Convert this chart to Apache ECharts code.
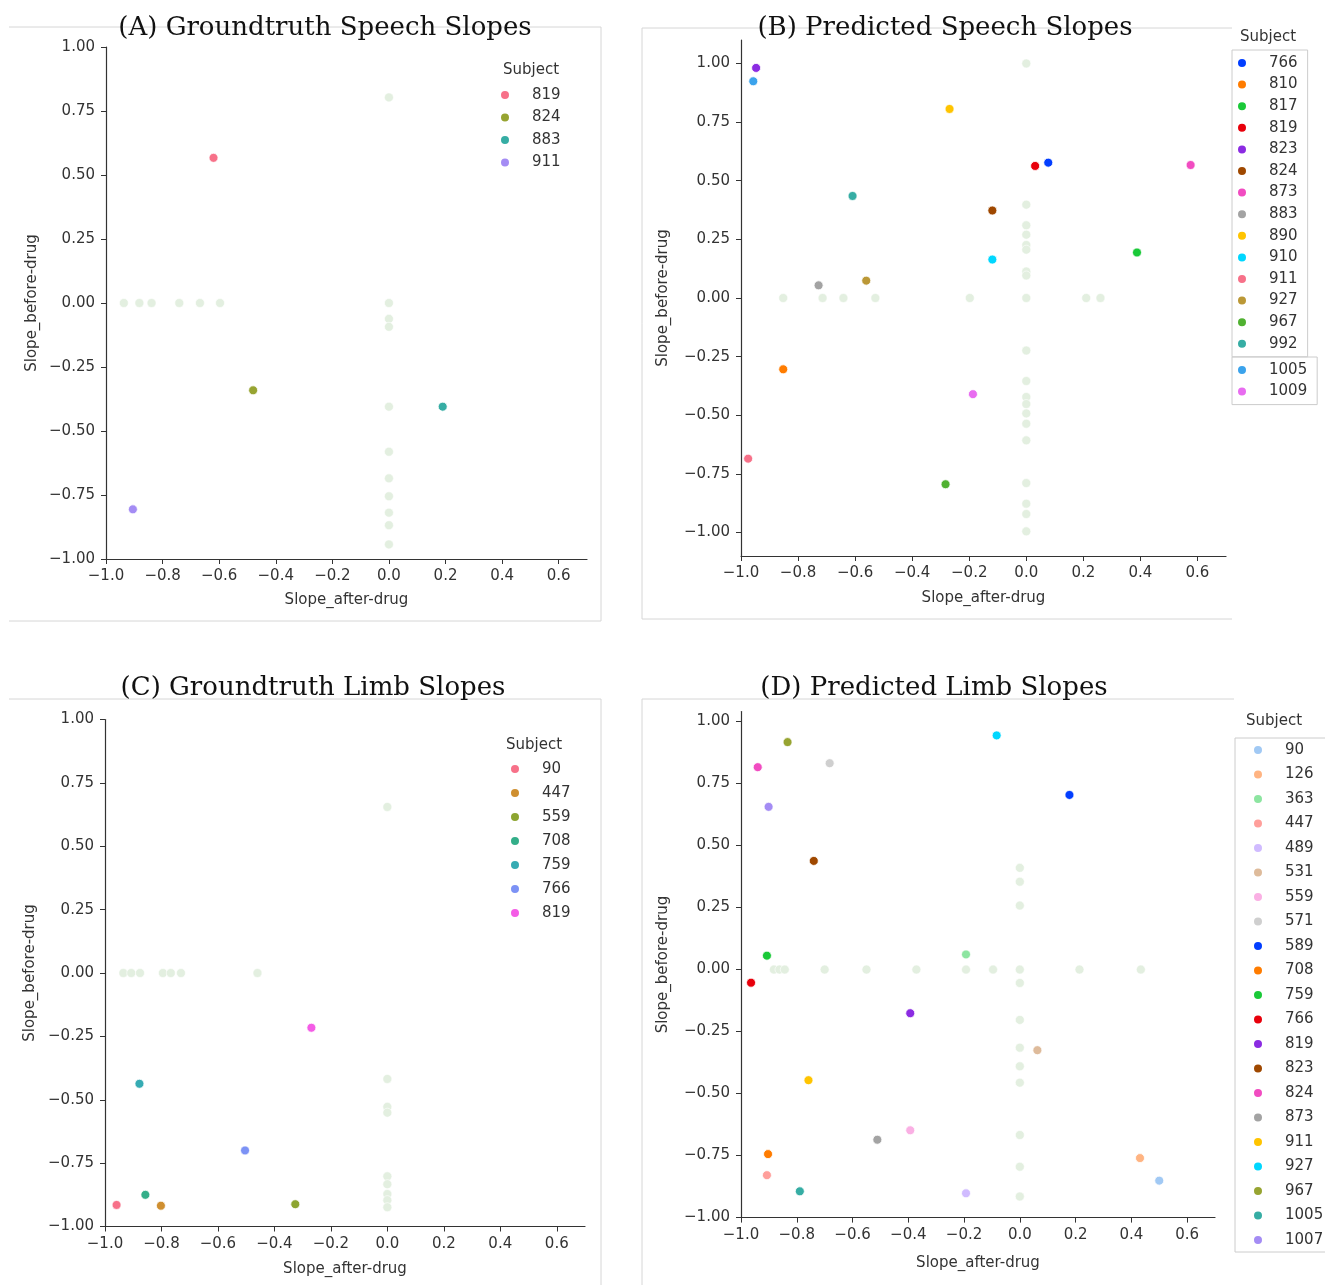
<!DOCTYPE html>
<html>
<head>
<meta charset="UTF-8">
<title>Speech and limb slopes</title>
<script src="https://cdn.jsdelivr.net/npm/echarts@6.0.0/dist/echarts.min.js"></script>
<style>
  body { margin: 0; background: #fff; }
  #chart { width: 1325px; height: 1285px; }
</style>
</head>
<body>
<div id="chart"></div>
<script>
// (A) groundtruth speech
var aSubjects = ['819', '824', '883', '911'];
var aAfter = [-0.62, -0.48, 0.19, -0.905];
var aBefore = [0.567, -0.341, -0.405, -0.806];
var aColors = ['#f77189', '#97a431', '#36ada4', '#a48cf4'];
var aRestAfter = [-0.937, -0.882, -0.839, -0.741, -0.668, -0.597, 0, 0, 0, 0, 0, 0, 0, 0, 0, 0, 0];
var aRestBefore = [0, 0, 0, 0, 0, 0, 0.803, 0, -0.062, -0.093, -0.405, -0.581, -0.685, -0.755, -0.819, -0.868, -0.943];

// (B) predicted speech
var bSubjects = ['766', '810', '817', '819', '823', '824', '873', '883', '890', '910', '911', '927', '967', '992', '1005', '1009'];
var bAfter = [0.077, -0.852, 0.388, 0.031, -0.947, -0.119, 0.576, -0.728, -0.269, -0.119, -0.975, -0.561, -0.283, -0.609, -0.957, -0.187];
var bBefore = [0.577, -0.304, 0.194, 0.563, 0.981, 0.373, 0.567, 0.054, 0.806, 0.164, -0.685, 0.074, -0.794, 0.435, 0.924, -0.410];
var bColors = ['#023eff', '#ff7c00', '#1ac938', '#e8000b', '#8b2be2', '#9f4800', '#f14cc1', '#a3a3a3',
               '#ffc400', '#00d7ff', '#f77189', '#bb9836', '#50b131', '#36ada4', '#3ba3ec', '#e86cf0'];
var bRestAfter = [-0.852, -0.714, -0.641, -0.529, -0.198, 0.210, 0.260,
                  0, 0, 0, 0, 0, 0, 0, 0, 0, 0, 0, 0, 0, 0, 0, 0, 0, 0, 0, 0];
var bRestBefore = [0, 0, 0, 0, 0, 0, 0,
                   1.0, 0.398, 0.310, 0.270, 0.226, 0.206, 0.113, 0.096, 0, -0.224, -0.354, -0.422, -0.452, -0.492, -0.536, -0.607, -0.789, -0.877, -0.921, -0.995];

// (C) groundtruth limb
var cSubjects = ['90', '447', '559', '708', '759', '766', '819'];
var cAfter = [-0.959, -0.802, -0.326, -0.857, -0.878, -0.504, -0.269];
var cBefore = [-0.915, -0.918, -0.912, -0.875, -0.437, -0.700, -0.216];
var cColors = ['#f77189', '#cf8f30', '#8da531', '#33ae89', '#36abb3', '#7c92f5', '#f45ce6'];
var cRestAfter = [-0.935, -0.907, -0.876, -0.795, -0.767, -0.731, -0.46, 0, 0, 0, 0, 0, 0, 0, 0, 0];
var cRestBefore = [0, 0, 0, 0, 0, 0, 0, 0.655, -0.418, -0.528, -0.551, -0.802, -0.833, -0.872, -0.896, -0.924];

// (D) predicted limb
var dSubjects = ['90', '126', '363', '447', '489', '531', '559', '571', '589', '708', '759',
                 '766', '819', '823', '824', '873', '911', '927', '967', '1005', '1007'];
var dAfter = [0.500, 0.431, -0.193, -0.907, -0.193, 0.063, -0.393, -0.682, 0.178, -0.903, -0.907,
              -0.964, -0.393, -0.739, -0.940, -0.511, -0.758, -0.083, -0.833, -0.789, -0.901];
var dBefore = [-0.851, -0.760, 0.061, -0.829, -0.902, -0.325, -0.648, 0.832, 0.704, -0.744, 0.056,
               -0.053, -0.176, 0.438, 0.816, -0.686, -0.446, 0.944, 0.917, -0.894, 0.656];
var dColors = ['#a1c9f4', '#ffb482', '#8de5a1', '#ff9f9b', '#d0bbff', '#debb9b', '#fab0e4', '#cfcfcf', '#023eff', '#ff7c00', '#1ac938',
               '#e8000b', '#8b2be2', '#9f4800', '#f14cc1', '#a3a3a3', '#ffc400', '#00d7ff', '#97a431', '#36ada4', '#a48cf4'];
var dRestAfter = [-0.882, -0.862, -0.843, -0.700, -0.550, -0.371, -0.193, -0.096, 0.214, 0.434,
                  0, 0, 0, 0, 0, 0, 0, 0, 0, 0, 0, 0];
var dRestBefore = [0, 0, 0, 0, 0, 0, 0, 0, 0, 0,
                   0.410, 0.354, 0.258, 0, -0.054, -0.203, -0.315, -0.390, -0.456, -0.667, -0.795, -0.915];

var xTicks = [-1.0, -0.8, -0.6, -0.4, -0.2, 0.0, 0.2, 0.4, 0.6];
var yTicks = [-1.0, -0.75, -0.5, -0.25, 0.0, 0.25, 0.5, 0.75, 1.0];

var faint = '#e3efe0';
var ink = '#333333';
var sans = 'DejaVu Sans';
var serif = 'DejaVu Serif';

function minus(s) { return s.replace('-', '\u2212'); }

function xAxisFor(grid, gap) {
  return {
    type: 'value', gridIndex: grid, min: -1.0, max: 0.7,
    name: 'Slope_after-drug', nameLocation: 'middle', nameGap: gap,
    nameTextStyle: { fontFamily: sans, fontSize: 15, color: ink },
    axisLine: { show: true, onZero: false, lineStyle: { color: ink, width: 1.2 } },
    axisTick: { show: true, length: 5, lineStyle: { color: ink }, customValues: xTicks },
    axisLabel: { fontFamily: sans, fontSize: 15, color: ink, margin: 10, customValues: xTicks,
      formatter: function (v) { return minus(v.toFixed(1)); } },
    splitLine: { show: false }
  };
}

function yAxisFor(grid, lo, hi, gap) {
  return {
    type: 'value', gridIndex: grid, min: lo, max: hi,
    name: 'Slope_before-drug', nameLocation: 'middle', nameGap: gap,
    nameTextStyle: { fontFamily: sans, fontSize: 15, color: ink },
    axisLine: { show: true, onZero: false, lineStyle: { color: ink, width: 1.2 } },
    axisTick: { show: true, length: 5, lineStyle: { color: ink }, customValues: yTicks },
    axisLabel: { fontFamily: sans, fontSize: 15, color: ink, margin: 11, customValues: yTicks,
      formatter: function (v) { return minus(v.toFixed(2)); } },
    splitLine: { show: false }
  };
}

var series = [];
function addPanel(key, grid, subjects, after, before, colors, restAfter, restBefore) {
  var rest = restAfter.map(function (x, i) { return [x, restBefore[i]]; });
  series.push({
    type: 'scatter', name: key + '|rest', xAxisIndex: grid, yAxisIndex: grid,
    data: rest, symbolSize: 9, z: 1,
    itemStyle: { color: faint, opacity: 1, borderColor: '#ffffff', borderWidth: 0.6 }
  });
  subjects.forEach(function (s, i) {
    series.push({
      type: 'scatter', name: key + '|' + s, xAxisIndex: grid, yAxisIndex: grid,
      data: [[after[i], before[i]]], symbolSize: 9, z: 3,
      itemStyle: { color: colors[i], opacity: 1, borderColor: '#ffffff', borderWidth: 0.8 }
    });
  });
}
addPanel('A', 0, aSubjects, aAfter, aBefore, aColors, aRestAfter, aRestBefore);
addPanel('B', 1, bSubjects, bAfter, bBefore, bColors, bRestAfter, bRestBefore);
addPanel('C', 2, cSubjects, cAfter, cBefore, cColors, cRestAfter, cRestBefore);
addPanel('D', 3, dSubjects, dAfter, dBefore, dColors, dRestAfter, dRestBefore);

function names(key, list) { return list.map(function (s) { return key + '|' + s; }); }

function legendFor(key, list, left, top, gap, boxed, pad) {
  return {
    orient: 'vertical', left: left, top: top, data: names(key, list),
    icon: 'circle', itemWidth: 10, itemHeight: 10, itemGap: gap,
    padding: pad, selectedMode: false,
    borderColor: boxed ? '#cccccc' : 'transparent', borderWidth: boxed ? 1 : 0,
    formatter: function (n) { return n.split('|')[1]; },
    textStyle: { fontFamily: sans, fontSize: 15, color: ink, lineHeight: 16, padding: [0, 0, 0, 17] }
  };
}

function heading(text, x, y, size, font) {
  return {
    text: text, left: x, top: y, textAlign: 'center', padding: 0,
    textStyle: { fontFamily: font, fontSize: size, fontWeight: 'normal', color: font === serif ? '#111' : ink }
  };
}

function frameLine(x1, y1, x2, y2) {
  return { type: 'line', shape: { x1: x1, y1: y1, x2: x2, y2: y2 }, z: -1,
    style: { stroke: '#d6d6d6', lineWidth: 1 } };
}

var chart = echarts.init(document.getElementById('chart'));
chart.setOption({
  backgroundColor: '#ffffff',
  animation: false,
  title: [
    heading('(A) Groundtruth Speech Slopes', 325, 15, 26, serif),
    heading('(B) Predicted Speech Slopes', 945, 15, 26, serif),
    heading('(C) Groundtruth Limb Slopes', 313, 675, 26, serif),
    heading('(D) Predicted Limb Slopes', 934, 675, 26, serif),
    heading('Subject', 531, 63, 15, sans),
    heading('Subject', 1268, 30, 15, sans),
    heading('Subject', 534, 738, 15, sans),
    heading('Subject', 1274, 714, 15, sans)
  ],
  legend: [
    legendFor('A', aSubjects, 499, 87, 6.5, false, 0),
    legendFor('B', bSubjects.slice(0, 14), 1232, 50, 5.6, true, [5, 10, 5, 4]),
    legendFor('B', bSubjects.slice(14), 1232, 357, 5.6, true, [5, 10, 5, 4]),
    legendFor('C', cSubjects, 509, 761, 8, false, 0),
    legendFor('D', dSubjects, 1235, 738, 8.5, true, [4, 24, 4, 17])
  ],
  grid: [
    { left: 106, top: 47, width: 481, height: 512 },
    { left: 741, top: 40, width: 485, height: 516 },
    { left: 105, top: 719.5, width: 480, height: 507 },
    { left: 741, top: 711.6, width: 474, height: 506 }
  ],
  xAxis: [xAxisFor(0, 34), xAxisFor(1, 35), xAxisFor(2, 35), xAxisFor(3, 38)],
  yAxis: [yAxisFor(0, -1.0, 1.0, 66), yAxisFor(1, -1.1, 1.1, 70), yAxisFor(2, -1.0, 1.0, 67), yAxisFor(3, -1.0, 1.04, 70)],
  series: series,
  graphic: [
    frameLine(9, 27, 601, 27), frameLine(601, 27, 601, 621), frameLine(9, 621, 601, 621),
    frameLine(642, 28, 1232, 28), frameLine(642, 28, 642, 619), frameLine(642, 619, 1232, 619),
    frameLine(9, 699, 601, 699), frameLine(601, 699, 601, 1285),
    frameLine(642, 699, 1234, 699), frameLine(642, 699, 642, 1285)
  ]
});
</script>
</body>
</html>
